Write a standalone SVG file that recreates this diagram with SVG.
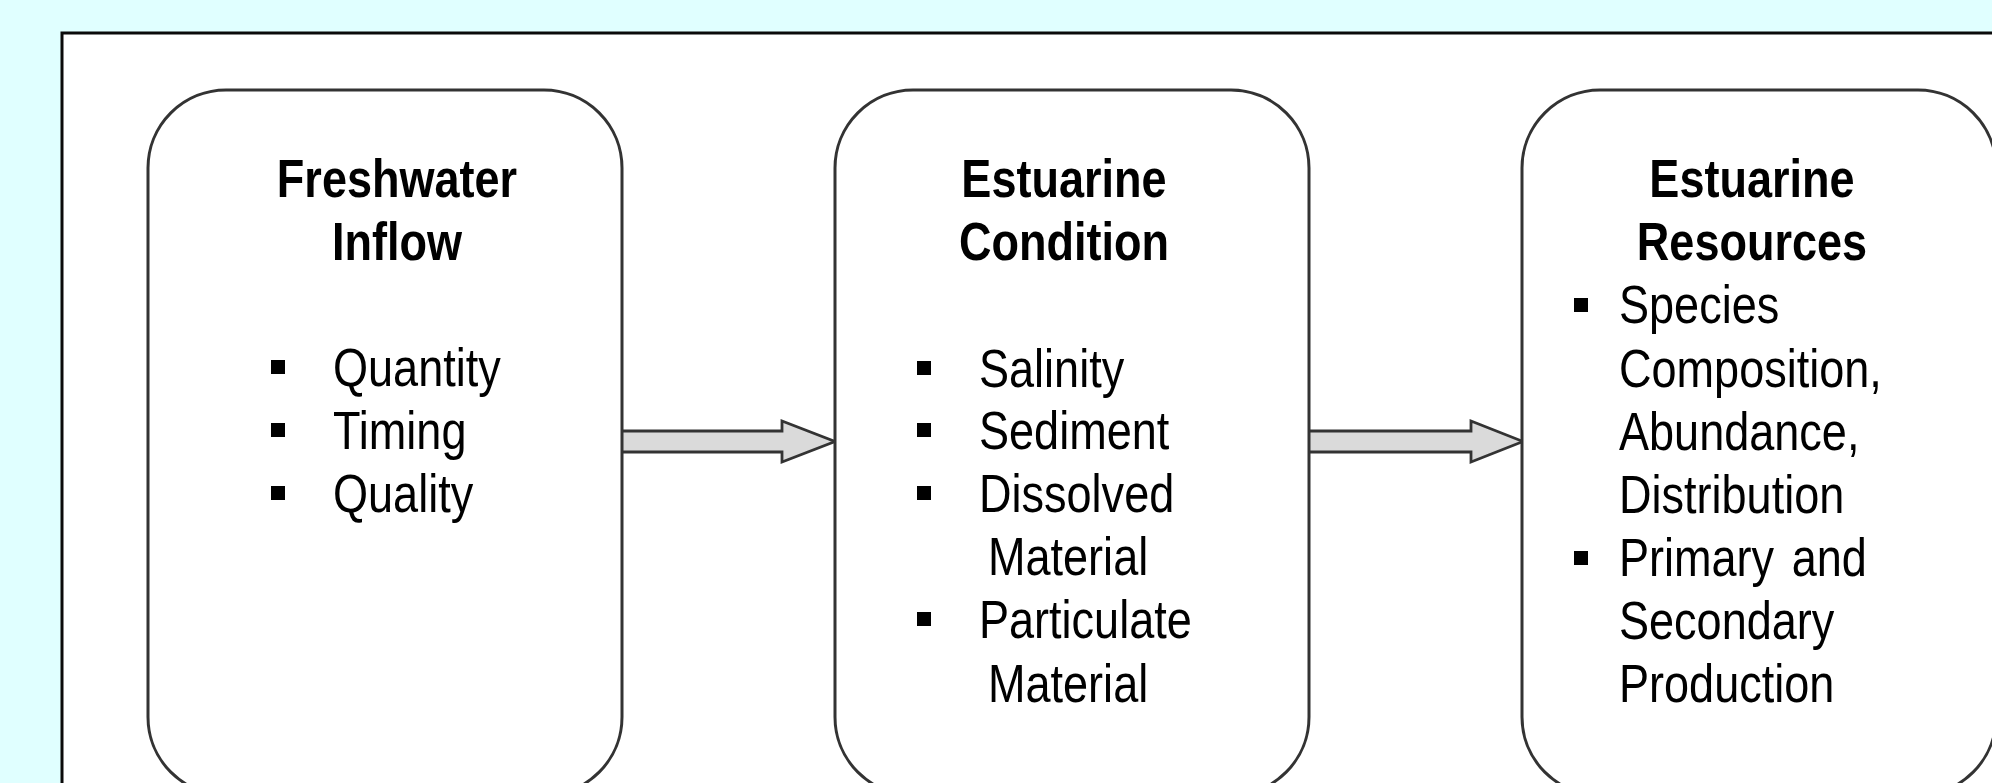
<svg xmlns="http://www.w3.org/2000/svg" width="1992" height="783" viewBox="0 0 1992 783">
<style>
.bg{fill:#e0ffff}
.frame{fill:#ffffff;stroke:#0a0a0a;stroke-width:3}
.box{fill:#ffffff;stroke:#333333;stroke-width:3}
.hd{font-family:"Liberation Sans",Arial,sans-serif;font-size:53px;font-weight:bold;fill:#000000;text-anchor:middle}
.it{font-family:"Liberation Sans",Arial,sans-serif;font-size:53px;fill:#000000}
.bul{fill:#000000}
.arrow{fill:#dadada;stroke:#333333;stroke-width:2.8;stroke-linejoin:miter}
</style>
<rect class="bg" x="0" y="0" width="1992" height="783"/>
<rect class="frame" x="62" y="33" width="2000" height="800"/>

<g id="connectors">
  <path class="arrow" d="M621,431 H782 V421 L835,441.5 L782,462 V452 H621 Z"/>
  <path class="arrow" d="M1308,431 H1471 V421 L1523,441.5 L1471,462 V452 H1308 Z"/>
</g>

<g id="node-freshwater-inflow">
  <rect class="box" x="148" y="90" width="474" height="705" rx="78" ry="78"/>
  <text class="hd" transform="translate(397,197) scale(0.85,1)">Freshwater</text>
  <text class="hd" transform="translate(397,260) scale(0.85,1)">Inflow</text>
  <rect class="bul" x="271" y="360" width="14" height="14"/>
  <text class="it" transform="translate(333,386) scale(0.85,1)">Quantity</text>
  <rect class="bul" x="271" y="423" width="14" height="14"/>
  <text class="it" transform="translate(333,449) scale(0.85,1)">Timing</text>
  <rect class="bul" x="271" y="486" width="14" height="14"/>
  <text class="it" transform="translate(333,512) scale(0.85,1)">Quality</text>
</g>

<g id="node-estuarine-condition">
  <rect class="box" x="835" y="90" width="474" height="705" rx="78" ry="78"/>
  <text class="hd" transform="translate(1064,197) scale(0.85,1)">Estuarine</text>
  <text class="hd" transform="translate(1064,260) scale(0.85,1)">Condition</text>
  <rect class="bul" x="917" y="361" width="14" height="14"/>
  <text class="it" transform="translate(979,387) scale(0.85,1)">Salinity</text>
  <rect class="bul" x="917" y="423" width="14" height="14"/>
  <text class="it" transform="translate(979,449) scale(0.85,1)">Sediment</text>
  <rect class="bul" x="917" y="486" width="14" height="14"/>
  <text class="it" transform="translate(979,512) scale(0.85,1)">Dissolved</text>
  <text class="it" transform="translate(988,575) scale(0.85,1)">Material</text>
  <rect class="bul" x="917" y="612" width="14" height="14"/>
  <text class="it" transform="translate(979,638) scale(0.85,1)">Particulate</text>
  <text class="it" transform="translate(988,702) scale(0.85,1)">Material</text>
</g>

<g id="node-estuarine-resources">
  <rect class="box" x="1522" y="90" width="474" height="705" rx="78" ry="78"/>
  <text class="hd" transform="translate(1752,197) scale(0.85,1)">Estuarine</text>
  <text class="hd" transform="translate(1752,260) scale(0.85,1)">Resources</text>
  <rect class="bul" x="1574" y="298" width="14" height="14"/>
  <text class="it" transform="translate(1619,323) scale(0.85,1)">Species</text>
  <text class="it" transform="translate(1619,387) scale(0.85,1)">Composition,</text>
  <text class="it" transform="translate(1619,450) scale(0.85,1)">Abundance,</text>
  <text class="it" transform="translate(1619,513) scale(0.85,1)">Distribution</text>
  <rect class="bul" x="1574" y="551" width="14" height="14"/>
  <text class="it" transform="translate(1619,576) scale(0.85,1)" word-spacing="6">Primary and</text>
  <text class="it" transform="translate(1619,639) scale(0.85,1)">Secondary</text>
  <text class="it" transform="translate(1619,702) scale(0.85,1)">Production</text>
</g>
</svg>
